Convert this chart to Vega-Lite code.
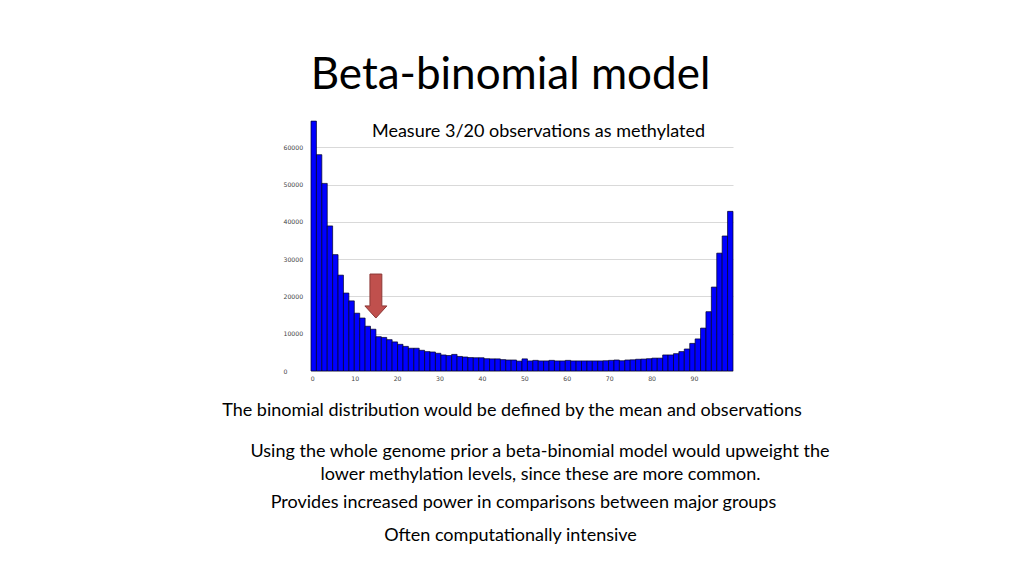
{
  "$schema": "https://vega.github.io/schema/vega-lite/v6.json",
  "width": 422,
  "height": 251,
  "autosize": {"type": "none"},
  "padding": {"left": 311, "top": 120, "right": 291, "bottom": 205},
  "background": "white",
  "config": {"view": {"stroke": null}},
  "datasets": {
    "bins": [
      {"lo": -0.30, "hi": 0.98, "count": 67000},
      {"lo": 0.98, "hi": 2.25, "count": 58000},
      {"lo": 2.25, "hi": 3.53, "count": 50300},
      {"lo": 3.53, "hi": 4.80, "count": 38900},
      {"lo": 4.80, "hi": 6.08, "count": 31200},
      {"lo": 6.08, "hi": 7.35, "count": 25700},
      {"lo": 7.35, "hi": 8.63, "count": 20900},
      {"lo": 8.63, "hi": 9.91, "count": 18800},
      {"lo": 9.91, "hi": 11.18, "count": 15500},
      {"lo": 11.18, "hi": 12.46, "count": 14200},
      {"lo": 12.46, "hi": 13.73, "count": 12000},
      {"lo": 13.73, "hi": 15.01, "count": 11200},
      {"lo": 15.01, "hi": 16.28, "count": 9200},
      {"lo": 16.28, "hi": 17.56, "count": 9000},
      {"lo": 17.56, "hi": 18.83, "count": 8400},
      {"lo": 18.83, "hi": 20.11, "count": 7800},
      {"lo": 20.11, "hi": 21.39, "count": 7150},
      {"lo": 21.39, "hi": 22.66, "count": 6600},
      {"lo": 22.66, "hi": 23.94, "count": 6100},
      {"lo": 23.94, "hi": 25.21, "count": 6100},
      {"lo": 25.21, "hi": 26.49, "count": 5550},
      {"lo": 26.49, "hi": 27.76, "count": 5200},
      {"lo": 27.76, "hi": 29.04, "count": 5100},
      {"lo": 29.04, "hi": 30.32, "count": 4750},
      {"lo": 30.32, "hi": 31.59, "count": 4300},
      {"lo": 31.59, "hi": 32.87, "count": 4150},
      {"lo": 32.87, "hi": 34.14, "count": 4450},
      {"lo": 34.14, "hi": 35.42, "count": 3900},
      {"lo": 35.42, "hi": 36.69, "count": 3750},
      {"lo": 36.69, "hi": 37.97, "count": 3600},
      {"lo": 37.97, "hi": 39.24, "count": 3550},
      {"lo": 39.24, "hi": 40.52, "count": 3550},
      {"lo": 40.52, "hi": 41.80, "count": 3300},
      {"lo": 41.80, "hi": 43.07, "count": 3250},
      {"lo": 43.07, "hi": 44.35, "count": 3250},
      {"lo": 44.35, "hi": 45.62, "count": 3050},
      {"lo": 45.62, "hi": 46.90, "count": 2950},
      {"lo": 46.90, "hi": 48.17, "count": 2950},
      {"lo": 48.17, "hi": 49.45, "count": 2650},
      {"lo": 49.45, "hi": 50.73, "count": 3250},
      {"lo": 50.73, "hi": 52.00, "count": 2700},
      {"lo": 52.00, "hi": 53.28, "count": 2850},
      {"lo": 53.28, "hi": 54.55, "count": 2700},
      {"lo": 54.55, "hi": 55.83, "count": 2700},
      {"lo": 55.83, "hi": 57.10, "count": 2850},
      {"lo": 57.10, "hi": 58.38, "count": 2700},
      {"lo": 58.38, "hi": 59.66, "count": 2700},
      {"lo": 59.66, "hi": 60.93, "count": 2850},
      {"lo": 60.93, "hi": 62.21, "count": 2700},
      {"lo": 62.21, "hi": 63.48, "count": 2700},
      {"lo": 63.48, "hi": 64.76, "count": 2700},
      {"lo": 64.76, "hi": 66.03, "count": 2700},
      {"lo": 66.03, "hi": 67.31, "count": 2700},
      {"lo": 67.31, "hi": 68.58, "count": 2700},
      {"lo": 68.58, "hi": 69.86, "count": 2750},
      {"lo": 69.86, "hi": 71.14, "count": 2850},
      {"lo": 71.14, "hi": 72.41, "count": 2950},
      {"lo": 72.41, "hi": 73.69, "count": 2750},
      {"lo": 73.69, "hi": 74.96, "count": 2950},
      {"lo": 74.96, "hi": 76.24, "count": 3000},
      {"lo": 76.24, "hi": 77.51, "count": 3150},
      {"lo": 77.51, "hi": 78.79, "count": 3200},
      {"lo": 78.79, "hi": 80.07, "count": 3300},
      {"lo": 80.07, "hi": 81.34, "count": 3450},
      {"lo": 81.34, "hi": 82.62, "count": 3450},
      {"lo": 82.62, "hi": 83.89, "count": 4300},
      {"lo": 83.89, "hi": 85.17, "count": 4300},
      {"lo": 85.17, "hi": 86.44, "count": 4650},
      {"lo": 86.44, "hi": 87.72, "count": 5200},
      {"lo": 87.72, "hi": 89.00, "count": 5900},
      {"lo": 89.00, "hi": 90.27, "count": 7400},
      {"lo": 90.27, "hi": 91.55, "count": 8600},
      {"lo": 91.55, "hi": 92.82, "count": 11500},
      {"lo": 92.82, "hi": 94.10, "count": 15900},
      {"lo": 94.10, "hi": 95.37, "count": 22500},
      {"lo": 95.37, "hi": 96.65, "count": 31600},
      {"lo": 96.65, "hi": 97.92, "count": 36200},
      {"lo": 97.92, "hi": 99.20, "count": 42800}
    ],
    "arrow": [{"x": 15, "y": 20100}],
    "heading": [{"text": "Beta-binomial model", "x": 46.74, "y": 79100}],
    "notes": [
      {"text": "Measure 3/20 observations as methylated", "x": 53.34, "y": 64060},
      {"text": "The binomial distribution would be defined by the mean and observations", "x": 47.09, "y": -10730},
      {"text": "Using the whole genome prior a beta-binomial model would upweight the", "x": 53.69, "y": -21720},
      {"text": "lower methylation levels, since these are more common.", "x": 53.81, "y": -27890},
      {"text": "Provides increased power in comparisons between major groups", "x": 49.80, "y": -35400},
      {"text": "Often computationally intensive", "x": 46.74, "y": -44240}
    ]
  },
  "layer": [
    {
      "data": {"name": "bins"},
      "mark": {"type": "bar", "color": "#0000ff", "stroke": "#000022", "strokeWidth": 0.7},
      "encoding": {
        "x": {
          "field": "lo", "type": "quantitative",
          "scale": {"domain": [-0.3, 99.2], "nice": false, "zero": false},
          "axis": {"values": [0, 10, 20, 30, 40, 50, 60, 70, 80, 90], "title": null, "grid": false, "domain": false, "ticks": false, "tickSize": 0, "labelFontSize": 6.2, "labelFont": "DejaVu Sans", "labelColor": "#444444", "labelPadding": 4, "labelFlush": false}
        },
        "x2": {"field": "hi"},
        "y": {
          "field": "count", "type": "quantitative",
          "scale": {"domain": [0, 67300], "nice": false, "zero": true},
          "axis": {"values": [0, 10000, 20000, 30000, 40000, 50000, 60000], "format": "d", "title": null, "grid": true, "gridColor": "#d9d9d9", "gridWidth": 1, "domain": false, "ticks": false, "tickSize": 0, "labelAlign": "left", "labelBaseline": "middle", "labelPadding": 28, "labelFontSize": 6.2, "labelFont": "DejaVu Sans", "labelColor": "#444444"}
        },
        "y2": {"datum": 0}
      }
    },
    {
      "data": {"name": "arrow"},
      "mark": {"type": "point", "filled": true, "shape": "M -0.27 -1 L 0.27 -1 L 0.27 0.45 L 0.5 0.45 L 0 1 L -0.5 0.45 L -0.27 0.45 Z", "size": 1936, "fill": "#c0504d", "stroke": "#8c3836", "strokeWidth": 1, "opacity": 1},
      "encoding": {
        "x": {"field": "x", "type": "quantitative"},
        "y": {"field": "y", "type": "quantitative"}
      }
    },
    {
      "data": {"name": "heading"},
      "mark": {"type": "text", "font": "Lato", "fontSize": 44, "color": "#000000", "align": "center", "baseline": "middle"},
      "encoding": {
        "x": {"field": "x", "type": "quantitative"},
        "y": {"field": "y", "type": "quantitative"},
        "text": {"field": "text"}
      }
    },
    {
      "data": {"name": "notes"},
      "mark": {"type": "text", "font": "Lato", "fontSize": 18, "color": "#000000", "align": "center", "baseline": "middle"},
      "encoding": {
        "x": {"field": "x", "type": "quantitative"},
        "y": {"field": "y", "type": "quantitative"},
        "text": {"field": "text"}
      }
    }
  ]
}
